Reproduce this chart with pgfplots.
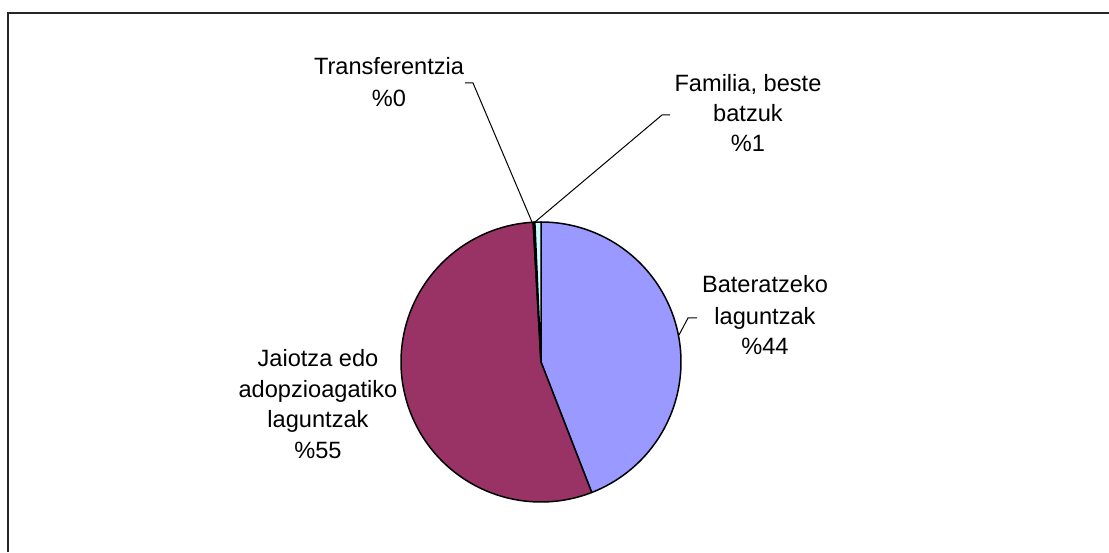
\documentclass[border=0pt]{standalone}
\usepackage{pgfplots}
\pgfplotsset{compat=1.18}
\usepackage{fontspec}
\setmainfont{Liberation Sans}
\definecolor{cA}{HTML}{9999FF}
\definecolor{cB}{HTML}{993366}
\definecolor{cC}{HTML}{FFFFCC}
\definecolor{cD}{HTML}{CCFFFF}
% shares (percent): Bateratzeko, Jaiotza, Transferentzia, Familia
\def\pA{44.1}\def\pB{55.0}\def\pC{0.2}\def\pD{0.7}
\begin{document}
\begin{tikzpicture}
\clip (0,0) rectangle (554.5pt,276pt);
\pgfmathsetmacro\aA{90}
\pgfmathsetmacro\aB{\aA-3.6*\pA}
\pgfmathsetmacro\aC{\aB-3.6*\pB}
\pgfmathsetmacro\aD{\aC-3.6*\pC}
\pgfmathsetmacro\aE{\aD-3.6*\pD}
\begin{axis}[at={(0,0)}, anchor=south west, scale only axis,
  width=554.5pt, height=276pt, xmin=0, xmax=1109, ymin=0, ymax=552,
  hide axis, clip=false]
\addplot[fill=cA, draw=black, line width=0.75pt, line join=round, domain=\aB:\aA, samples=120, variable=\t]
  ({541+140*cos(\t)},{190+140*sin(\t)}) -- (axis cs:541,190) -- cycle;
\addplot[fill=cB, draw=black, line width=0.75pt, line join=round, domain=\aC:\aB, samples=150, variable=\t]
  ({541+140*cos(\t)},{190+140*sin(\t)}) -- (axis cs:541,190) -- cycle;
\addplot[fill=cC, draw=black, line width=0.75pt, line join=round, domain=\aD:\aC, samples=4, variable=\t]
  ({541+140*cos(\t)},{190+140*sin(\t)}) -- (axis cs:541,190) -- cycle;
\addplot[fill=cD, draw=black, line width=0.75pt, line join=round, domain=\aE:\aD, samples=6, variable=\t]
  ({541+140*cos(\t)},{190+140*sin(\t)}) -- (axis cs:541,190) -- cycle;
% frame
\draw[black!85, line width=0.8pt] (axis cs:8,0) -- (axis cs:8,539) -- (axis cs:1112,539);
% leader lines
\draw[black, line width=0.5pt] (axis cs:465,469) -- (axis cs:473,469) -- (axis cs:532,330);
\draw[black, line width=0.5pt] (axis cs:670,437) -- (axis cs:662,437) -- (axis cs:535,330);
\draw[black, line width=0.5pt] (axis cs:697,234) -- (axis cs:688,234) -- (axis cs:679,217);
% labels
\tikzset{lbl/.style={anchor=base, inner sep=0pt, font=\fontsize{11.8}{14}\selectfont}}
\node[lbl] at (axis cs:389,477) {Transferentzia};
\node[lbl] at (axis cs:389,445) {\%0};
\node[lbl] at (axis cs:748,460) {Familia, beste};
\node[lbl] at (axis cs:748,430) {batzuk};
\node[lbl] at (axis cs:748,400) {\%1};
\node[lbl] at (axis cs:765,259) {Bateratzeko};
\node[lbl] at (axis cs:765,227) {laguntzak};
\node[lbl] at (axis cs:765,197) {\%44};
\node[lbl] at (axis cs:318,185) {Jaiotza edo};
\node[lbl] at (axis cs:318,154) {adopzioagatiko};
\node[lbl] at (axis cs:318,124) {laguntzak};
\node[lbl] at (axis cs:318,93) {\%55};
\end{axis}
\end{tikzpicture}
\end{document}
